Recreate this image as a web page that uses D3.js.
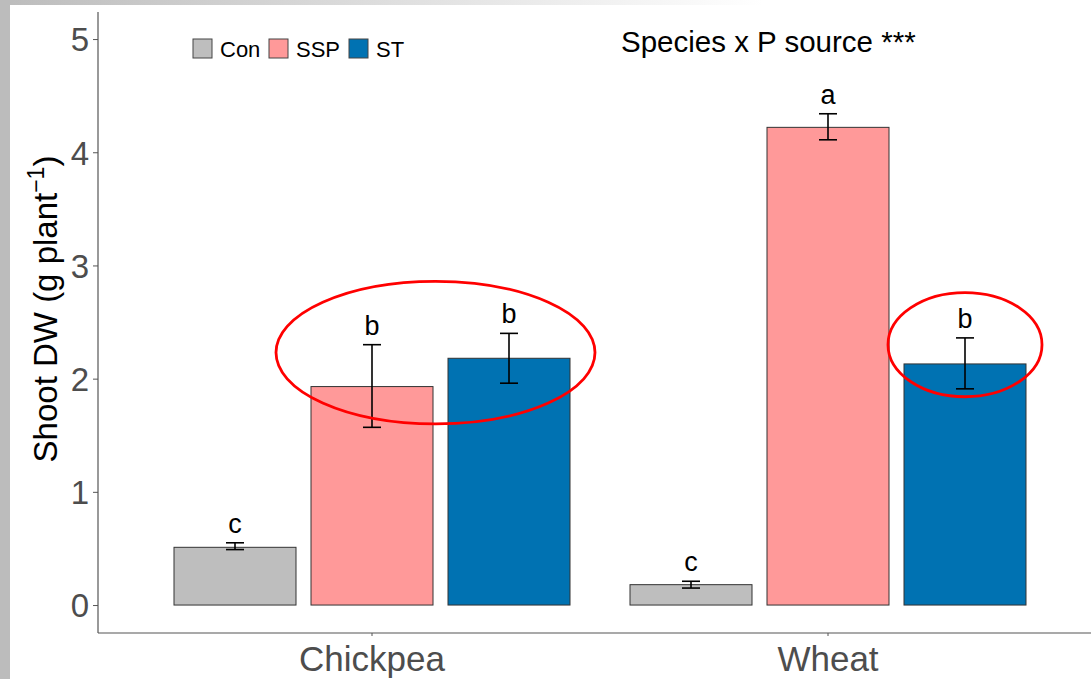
<!DOCTYPE html>
<html>
<head>
<meta charset="utf-8">
<script src="https://cdn.jsdelivr.net/npm/d3@7"></script>
<style>
  html, body { margin: 0; padding: 0; background: #fff; }
  svg { display: block; font-family: "Liberation Sans", Arial, sans-serif; }
</style>
</head>
<body>
<div id="chart"></div>
<script>
// Shoot dry weight by species and P source

const species = ['Chickpea', 'Wheat'];
const sources = ['Con', 'SSP', 'ST'];
const sourceColors = ['#bebebe', '#ff9999', '#0072b2'];

// mean, lower and upper error bounds
const meanChickpea = [0.51, 1.93, 2.18];
const meanWheat = [0.18, 4.22, 2.13];
const lowChickpea = [0.49, 1.57, 1.96];
const lowWheat = [0.15, 4.11, 1.91];
const highChickpea = [0.55, 2.30, 2.40];
const highWheat = [0.21, 4.34, 2.36];
const lettersChickpea = ['c', 'b', 'b'];
const lettersWheat = ['c', 'a', 'b'];

const yTicks = [0, 1, 2, 3, 4, 5];

// red circled groups: species, first and last source, centre value, half height (in value units)
const highlights = [
  { species: 'Chickpea', from: 'SSP', to: 'ST', yMid: 2.23, yHalf: 0.63 },
  { species: 'Wheat', from: 'ST', to: 'ST', yMid: 2.30, yHalf: 0.46 }
];

const width = 1091;
const height = 679;

const rows = [];
species.forEach((sp, i) => {
  const mean = i === 0 ? meanChickpea : meanWheat;
  const low = i === 0 ? lowChickpea : lowWheat;
  const high = i === 0 ? highChickpea : highWheat;
  const letters = i === 0 ? lettersChickpea : lettersWheat;
  sources.forEach((src, j) => {
    rows.push({ species: sp, source: src, mean: mean[j], low: low[j], high: high[j], letter: letters[j], color: sourceColors[j] });
  });
});

const svg = d3.select('#chart')
  .append('svg')
  .attr('width', width)
  .attr('height', height);

// grey frame on the left and top edges
const defs = svg.append('defs');
const grad = defs.append('linearGradient').attr('id', 'topfade').attr('x1', '0').attr('x2', '1');
grad.append('stop').attr('offset', '0').attr('stop-color', '#bcbcbc');
grad.append('stop').attr('offset', '0.7').attr('stop-color', '#ffffff');
svg.append('rect').attr('x', 0).attr('y', 0).attr('width', width).attr('height', 5).attr('fill', 'url(#topfade)');
svg.append('rect').attr('x', 0).attr('y', 0).attr('width', 10).attr('height', height).attr('fill', '#bcbcbc');

const x0 = d3.scaleBand()
  .domain(species)
  .range([144, 1056])
  .paddingInner(60 / 456)
  .paddingOuter(30 / 456);

const x1 = d3.scaleBand()
  .domain(sources)
  .range([0, x0.bandwidth()])
  .paddingInner(15 / 137);

const y = d3.scaleLinear()
  .domain([-0.247, 5.239])
  .range([633, 12]);

const axisColor = '#555';
const tickText = '#4d4d4d';

// y axis
const yAxis = svg.append('g')
  .attr('transform', 'translate(98,0)')
  .call(d3.axisLeft(y).tickValues(yTicks).tickSize(5).tickPadding(4).tickFormat(d3.format('d')));
yAxis.select('.domain').remove();
yAxis.selectAll('.tick line').attr('stroke', axisColor);
yAxis.selectAll('.tick text')
  .attr('fill', tickText)
  .style('font-size', '33px')
  .attr('dy', '0.36em');
svg.append('line')
  .attr('x1', 98).attr('x2', 98)
  .attr('y1', y.range()[1]).attr('y2', y.range()[0])
  .attr('stroke', axisColor).attr('stroke-width', 1.2);

// x axis
const xAxis = svg.append('g')
  .attr('transform', 'translate(0,633)')
  .call(d3.axisBottom(x0).tickSize(3).tickPadding(10));
xAxis.select('.domain').remove();
xAxis.selectAll('.tick line').attr('stroke', axisColor);
xAxis.selectAll('.tick text')
  .attr('fill', tickText)
  .style('font-size', '35px')
  .attr('dy', '0.71em');
svg.append('line')
  .attr('x1', 98).attr('x2', width)
  .attr('y1', 633).attr('y2', 633)
  .attr('stroke', axisColor).attr('stroke-width', 1.2);

// y title
const yTitle = svg.append('text')
  .attr('transform', 'translate(57,309) rotate(-90)')
  .attr('text-anchor', 'middle')
  .attr('fill', '#000')
  .style('font-size', '33px');
yTitle.append('tspan').text('Shoot DW (g plant');
yTitle.append('tspan').text('\u22121').attr('dy', -13).style('font-size', '23px');
yTitle.append('tspan').text(')').attr('dy', 13);

// bars
const bars = svg.append('g');
bars.selectAll('rect')
  .data(rows)
  .enter()
  .append('rect')
  .attr('x', d => x0(d.species) + x1(d.source))
  .attr('y', d => y(d.mean))
  .attr('width', x1.bandwidth())
  .attr('height', d => y(0) - y(d.mean))
  .attr('fill', d => d.color)
  .attr('stroke', '#333')
  .attr('stroke-width', 1);

// error bars
const capHalf = 9;
const errs = svg.append('g').attr('stroke', '#000').attr('stroke-width', 1.6);
rows.forEach(d => {
  const cx = x0(d.species) + x1(d.source) + x1.bandwidth() / 2;
  errs.append('line').attr('x1', cx).attr('x2', cx).attr('y1', y(d.low)).attr('y2', y(d.high));
  errs.append('line').attr('x1', cx - capHalf).attr('x2', cx + capHalf).attr('y1', y(d.low)).attr('y2', y(d.low));
  errs.append('line').attr('x1', cx - capHalf).attr('x2', cx + capHalf).attr('y1', y(d.high)).attr('y2', y(d.high));
});

// significance letters
svg.append('g').selectAll('text')
  .data(rows)
  .enter()
  .append('text')
  .attr('x', d => x0(d.species) + x1(d.source) + x1.bandwidth() / 2)
  .attr('y', d => y(d.high) - 10)
  .attr('text-anchor', 'middle')
  .attr('fill', '#000')
  .style('font-size', '27px')
  .text(d => d.letter);

// red ellipses
highlights.forEach(h => {
  const left = x0(h.species) + x1(h.from);
  const right = x0(h.species) + x1(h.to) + x1.bandwidth();
  const single = h.from === h.to;
  const cx = (left + right) / 2 + (single ? 0 : -5);
  const rx = (right - left) / 2 + (single ? 16 : 30);
  svg.append('ellipse')
    .attr('cx', cx)
    .attr('cy', y(h.yMid))
    .attr('rx', rx)
    .attr('ry', y(0) - y(h.yHalf))
    .attr('fill', 'none')
    .attr('stroke', '#ff0000')
    .attr('stroke-width', 2.8);
});

// legend
const legend = svg.append('g').attr('transform', 'translate(193,39)');
const legendX = [0, 76, 156];
sources.forEach((src, i) => {
  const g = legend.append('g').attr('transform', `translate(${legendX[i]},0)`);
  g.append('rect')
    .attr('width', 19).attr('height', 19)
    .attr('fill', sourceColors[i])
    .attr('stroke', '#444').attr('stroke-width', 1);
  g.append('text')
    .attr('x', 27).attr('y', 17.5)
    .attr('fill', '#000')
    .style('font-size', '22px')
    .text(src);
});

// interaction note
svg.append('text')
  .attr('x', 621)
  .attr('y', 52)
  .attr('fill', '#000')
  .style('font-size', '29.5px')
  .text('Species x P source ***');
</script>
</body>
</html>
